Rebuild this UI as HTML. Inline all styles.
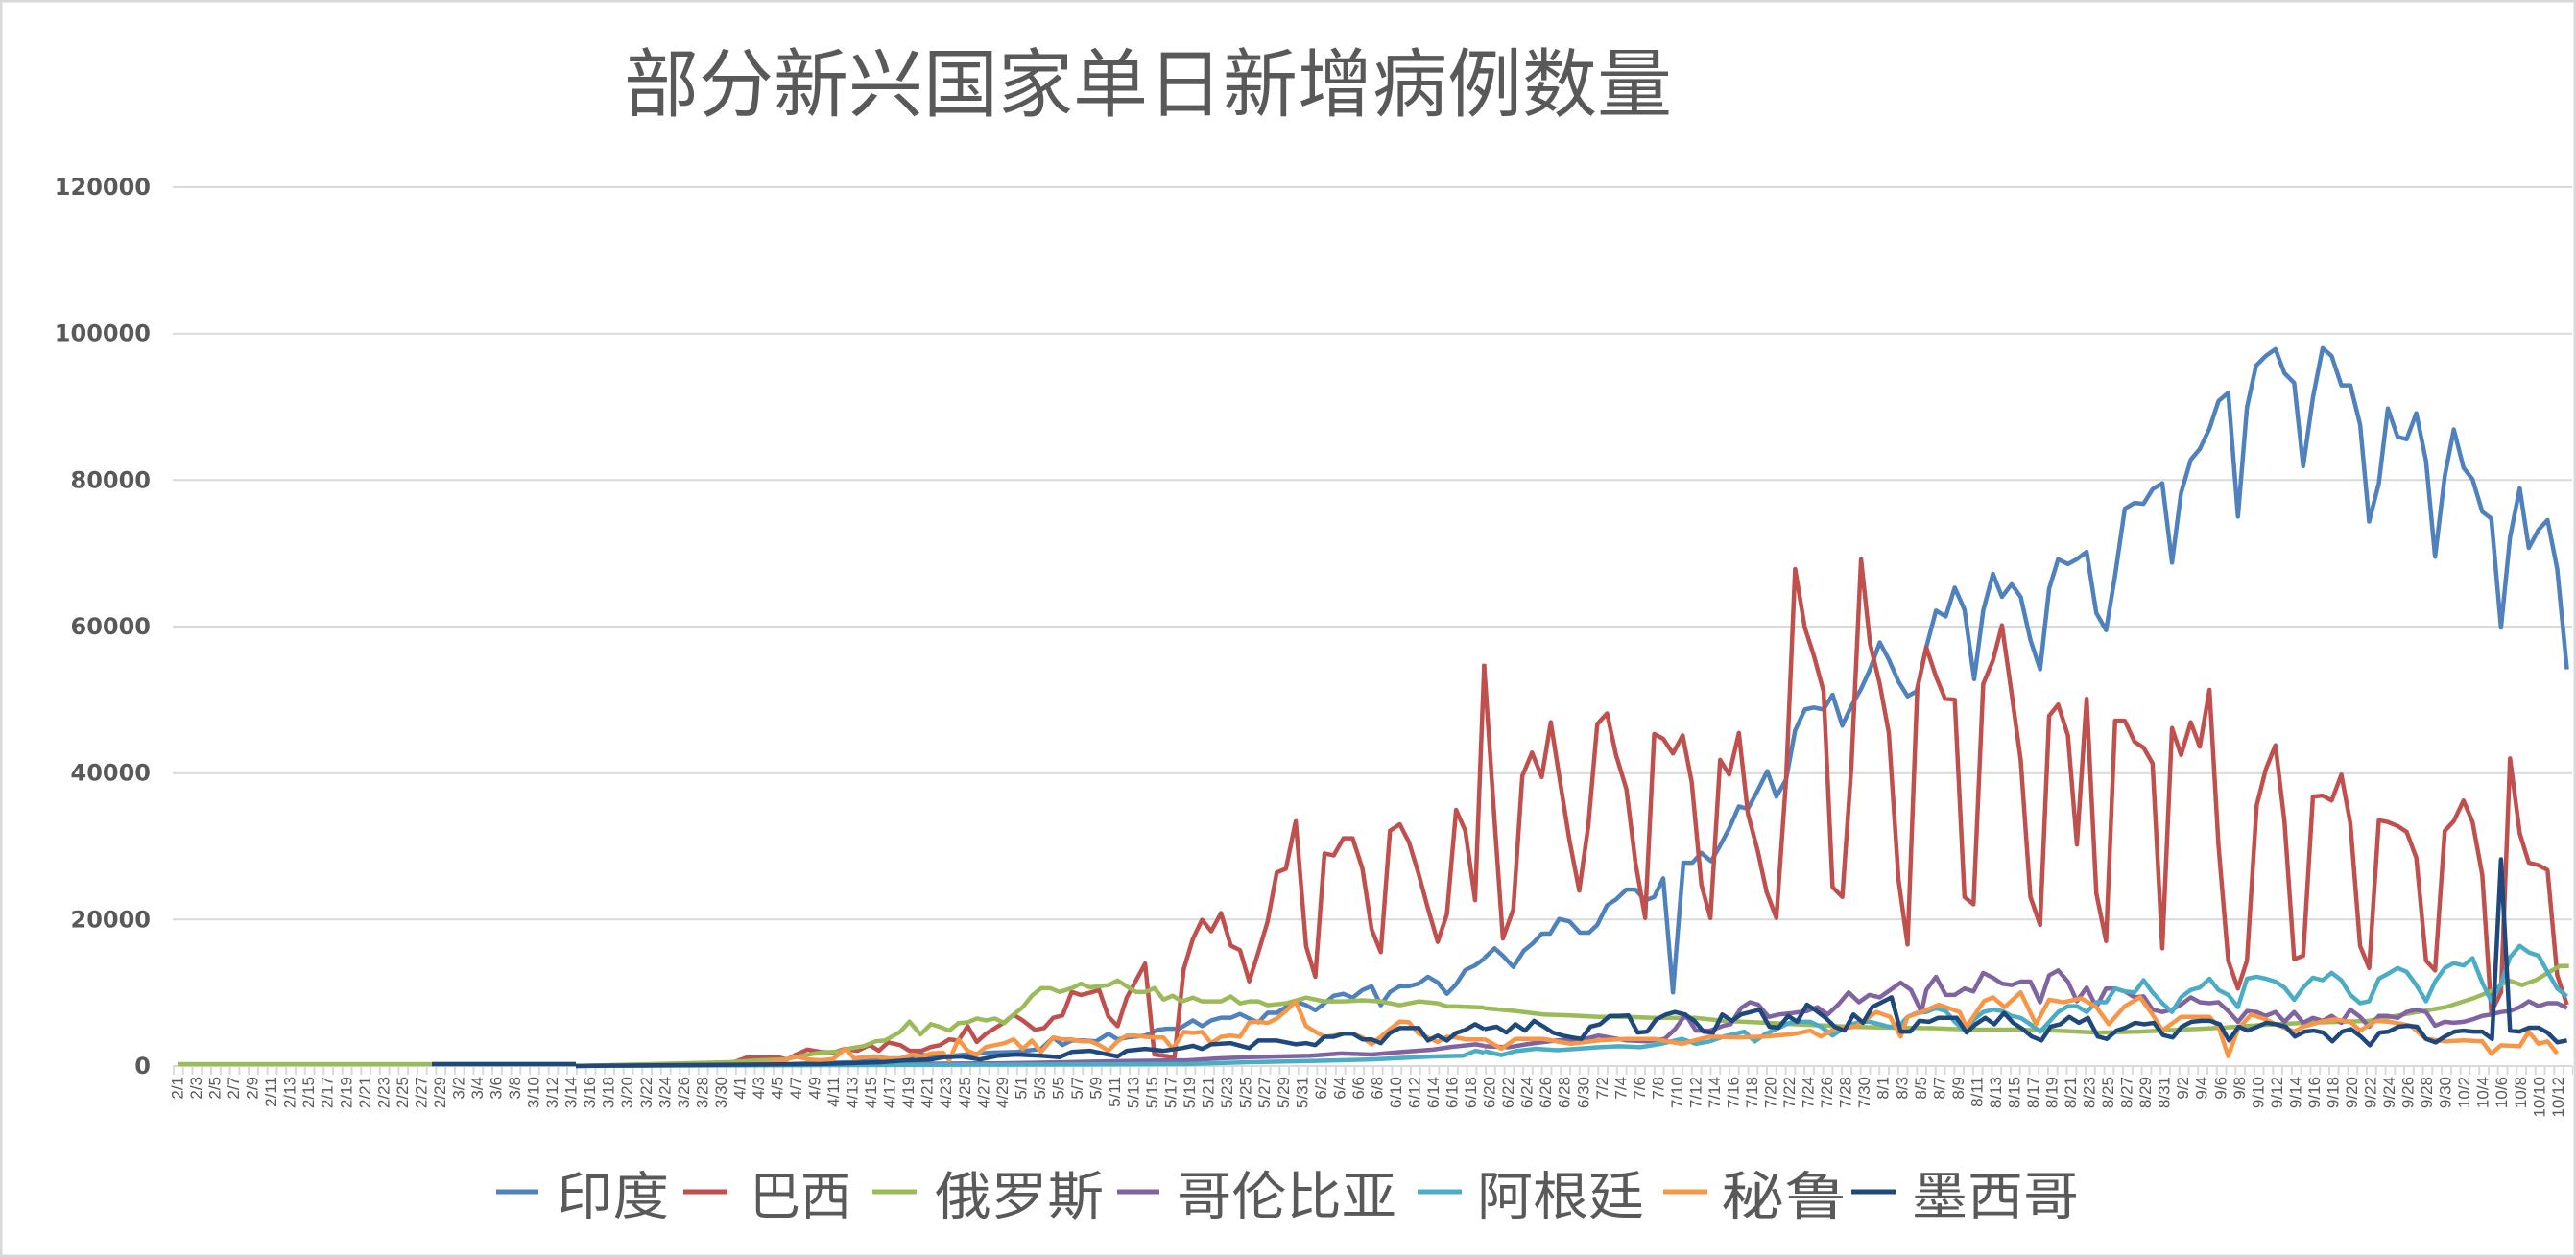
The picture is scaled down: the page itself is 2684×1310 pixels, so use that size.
<!DOCTYPE html>
<html><head><meta charset="utf-8"><style>
html,body{margin:0;padding:0;background:#fff;}
svg{display:block;}
</style></head><body>
<svg width="2684" height="1310" viewBox="0 0 2684 1310" xmlns="http://www.w3.org/2000/svg">
<rect x="1" y="1" width="2682" height="1308" fill="#fff" stroke="#D9D9D9" stroke-width="3"/>
<text x="1196" y="82" font-family="Noto Sans CJK SC, sans-serif" font-size="78" fill="#595959" text-anchor="middle" dominant-baseline="central">部分新兴国家单日新增病例数量</text>
<g stroke="#D9D9D9" stroke-width="2">
<line x1="180" y1="195" x2="2680" y2="195"/><line x1="180" y1="347.7" x2="2680" y2="347.7"/><line x1="180" y1="500.3" x2="2680" y2="500.3"/><line x1="180" y1="653" x2="2680" y2="653"/><line x1="180" y1="805.7" x2="2680" y2="805.7"/><line x1="180" y1="958.3" x2="2680" y2="958.3"/><line x1="180" y1="1111" x2="2680" y2="1111"/>
</g>
<defs><pattern id="tk" x="180" y="1111" width="9.765" height="10" patternUnits="userSpaceOnUse"><rect x="0" y="0" width="2" height="10" fill="#D9D9D9"/></pattern></defs>
<rect x="179" y="1111" width="2502" height="9" fill="url(#tk)"/>
<g font-family="DejaVu Sans, sans-serif" font-weight="bold" font-size="24" fill="#595959" text-anchor="end" dominant-baseline="central">
<text x="157" y="195">120000</text><text x="157" y="347.7">100000</text><text x="157" y="500.3">80000</text><text x="157" y="653">60000</text><text x="157" y="805.7">40000</text><text x="157" y="958.3">20000</text><text x="157" y="1111">0</text>
</g>
<g font-family="Liberation Sans, sans-serif" font-size="17" fill="#595959" text-anchor="end" dominant-baseline="central">
<text transform="translate(185,1122) rotate(-90)">2/1</text>
<text transform="translate(204.5,1122) rotate(-90)">2/3</text>
<text transform="translate(224.1,1122) rotate(-90)">2/5</text>
<text transform="translate(243.6,1122) rotate(-90)">2/7</text>
<text transform="translate(263.1,1122) rotate(-90)">2/9</text>
<text transform="translate(282.7,1122) rotate(-90)">2/11</text>
<text transform="translate(302.2,1122) rotate(-90)">2/13</text>
<text transform="translate(321.7,1122) rotate(-90)">2/15</text>
<text transform="translate(341.2,1122) rotate(-90)">2/17</text>
<text transform="translate(360.8,1122) rotate(-90)">2/19</text>
<text transform="translate(380.3,1122) rotate(-90)">2/21</text>
<text transform="translate(399.8,1122) rotate(-90)">2/23</text>
<text transform="translate(419.4,1122) rotate(-90)">2/25</text>
<text transform="translate(438.9,1122) rotate(-90)">2/27</text>
<text transform="translate(458.4,1122) rotate(-90)">2/29</text>
<text transform="translate(478,1122) rotate(-90)">3/2</text>
<text transform="translate(497.5,1122) rotate(-90)">3/4</text>
<text transform="translate(517,1122) rotate(-90)">3/6</text>
<text transform="translate(536.5,1122) rotate(-90)">3/8</text>
<text transform="translate(556.1,1122) rotate(-90)">3/10</text>
<text transform="translate(575.6,1122) rotate(-90)">3/12</text>
<text transform="translate(595.1,1122) rotate(-90)">3/14</text>
<text transform="translate(614.7,1122) rotate(-90)">3/16</text>
<text transform="translate(634.2,1122) rotate(-90)">3/18</text>
<text transform="translate(653.7,1122) rotate(-90)">3/20</text>
<text transform="translate(673.3,1122) rotate(-90)">3/22</text>
<text transform="translate(692.8,1122) rotate(-90)">3/24</text>
<text transform="translate(712.3,1122) rotate(-90)">3/26</text>
<text transform="translate(731.8,1122) rotate(-90)">3/28</text>
<text transform="translate(751.4,1122) rotate(-90)">3/30</text>
<text transform="translate(770.9,1122) rotate(-90)">4/1</text>
<text transform="translate(790.4,1122) rotate(-90)">4/3</text>
<text transform="translate(810,1122) rotate(-90)">4/5</text>
<text transform="translate(829.5,1122) rotate(-90)">4/7</text>
<text transform="translate(849,1122) rotate(-90)">4/9</text>
<text transform="translate(868.6,1122) rotate(-90)">4/11</text>
<text transform="translate(888.1,1122) rotate(-90)">4/13</text>
<text transform="translate(907.6,1122) rotate(-90)">4/15</text>
<text transform="translate(927.1,1122) rotate(-90)">4/17</text>
<text transform="translate(946.7,1122) rotate(-90)">4/19</text>
<text transform="translate(966.2,1122) rotate(-90)">4/21</text>
<text transform="translate(985.7,1122) rotate(-90)">4/23</text>
<text transform="translate(1005.3,1122) rotate(-90)">4/25</text>
<text transform="translate(1024.8,1122) rotate(-90)">4/27</text>
<text transform="translate(1044.3,1122) rotate(-90)">4/29</text>
<text transform="translate(1063.9,1122) rotate(-90)">5/1</text>
<text transform="translate(1083.4,1122) rotate(-90)">5/3</text>
<text transform="translate(1102.9,1122) rotate(-90)">5/5</text>
<text transform="translate(1122.4,1122) rotate(-90)">5/7</text>
<text transform="translate(1142,1122) rotate(-90)">5/9</text>
<text transform="translate(1161.5,1122) rotate(-90)">5/11</text>
<text transform="translate(1181,1122) rotate(-90)">5/13</text>
<text transform="translate(1200.6,1122) rotate(-90)">5/15</text>
<text transform="translate(1220.1,1122) rotate(-90)">5/17</text>
<text transform="translate(1239.6,1122) rotate(-90)">5/19</text>
<text transform="translate(1259.2,1122) rotate(-90)">5/21</text>
<text transform="translate(1278.7,1122) rotate(-90)">5/23</text>
<text transform="translate(1298.2,1122) rotate(-90)">5/25</text>
<text transform="translate(1317.7,1122) rotate(-90)">5/27</text>
<text transform="translate(1337.3,1122) rotate(-90)">5/29</text>
<text transform="translate(1356.8,1122) rotate(-90)">5/31</text>
<text transform="translate(1376.3,1122) rotate(-90)">6/2</text>
<text transform="translate(1395.9,1122) rotate(-90)">6/4</text>
<text transform="translate(1415.4,1122) rotate(-90)">6/6</text>
<text transform="translate(1434.9,1122) rotate(-90)">6/8</text>
<text transform="translate(1454.5,1122) rotate(-90)">6/10</text>
<text transform="translate(1474,1122) rotate(-90)">6/12</text>
<text transform="translate(1493.5,1122) rotate(-90)">6/14</text>
<text transform="translate(1513,1122) rotate(-90)">6/16</text>
<text transform="translate(1532.6,1122) rotate(-90)">6/18</text>
<text transform="translate(1552.1,1122) rotate(-90)">6/20</text>
<text transform="translate(1571.6,1122) rotate(-90)">6/22</text>
<text transform="translate(1591.2,1122) rotate(-90)">6/24</text>
<text transform="translate(1610.7,1122) rotate(-90)">6/26</text>
<text transform="translate(1630.2,1122) rotate(-90)">6/28</text>
<text transform="translate(1649.8,1122) rotate(-90)">6/30</text>
<text transform="translate(1669.3,1122) rotate(-90)">7/2</text>
<text transform="translate(1688.8,1122) rotate(-90)">7/4</text>
<text transform="translate(1708.3,1122) rotate(-90)">7/6</text>
<text transform="translate(1727.9,1122) rotate(-90)">7/8</text>
<text transform="translate(1747.4,1122) rotate(-90)">7/10</text>
<text transform="translate(1766.9,1122) rotate(-90)">7/12</text>
<text transform="translate(1786.5,1122) rotate(-90)">7/14</text>
<text transform="translate(1806,1122) rotate(-90)">7/16</text>
<text transform="translate(1825.5,1122) rotate(-90)">7/18</text>
<text transform="translate(1845.1,1122) rotate(-90)">7/20</text>
<text transform="translate(1864.6,1122) rotate(-90)">7/22</text>
<text transform="translate(1884.1,1122) rotate(-90)">7/24</text>
<text transform="translate(1903.6,1122) rotate(-90)">7/26</text>
<text transform="translate(1923.2,1122) rotate(-90)">7/28</text>
<text transform="translate(1942.7,1122) rotate(-90)">7/30</text>
<text transform="translate(1962.2,1122) rotate(-90)">8/1</text>
<text transform="translate(1981.8,1122) rotate(-90)">8/3</text>
<text transform="translate(2001.3,1122) rotate(-90)">8/5</text>
<text transform="translate(2020.8,1122) rotate(-90)">8/7</text>
<text transform="translate(2040.4,1122) rotate(-90)">8/9</text>
<text transform="translate(2059.9,1122) rotate(-90)">8/11</text>
<text transform="translate(2079.4,1122) rotate(-90)">8/13</text>
<text transform="translate(2098.9,1122) rotate(-90)">8/15</text>
<text transform="translate(2118.5,1122) rotate(-90)">8/17</text>
<text transform="translate(2138,1122) rotate(-90)">8/19</text>
<text transform="translate(2157.5,1122) rotate(-90)">8/21</text>
<text transform="translate(2177.1,1122) rotate(-90)">8/23</text>
<text transform="translate(2196.6,1122) rotate(-90)">8/25</text>
<text transform="translate(2216.1,1122) rotate(-90)">8/27</text>
<text transform="translate(2235.7,1122) rotate(-90)">8/29</text>
<text transform="translate(2255.2,1122) rotate(-90)">8/31</text>
<text transform="translate(2274.7,1122) rotate(-90)">9/2</text>
<text transform="translate(2294.2,1122) rotate(-90)">9/4</text>
<text transform="translate(2313.8,1122) rotate(-90)">9/6</text>
<text transform="translate(2333.3,1122) rotate(-90)">9/8</text>
<text transform="translate(2352.8,1122) rotate(-90)">9/10</text>
<text transform="translate(2372.4,1122) rotate(-90)">9/12</text>
<text transform="translate(2391.9,1122) rotate(-90)">9/14</text>
<text transform="translate(2411.4,1122) rotate(-90)">9/16</text>
<text transform="translate(2431,1122) rotate(-90)">9/18</text>
<text transform="translate(2450.5,1122) rotate(-90)">9/20</text>
<text transform="translate(2470,1122) rotate(-90)">9/22</text>
<text transform="translate(2489.5,1122) rotate(-90)">9/24</text>
<text transform="translate(2509.1,1122) rotate(-90)">9/26</text>
<text transform="translate(2528.6,1122) rotate(-90)">9/28</text>
<text transform="translate(2548.1,1122) rotate(-90)">9/30</text>
<text transform="translate(2567.7,1122) rotate(-90)">10/2</text>
<text transform="translate(2587.2,1122) rotate(-90)">10/4</text>
<text transform="translate(2606.7,1122) rotate(-90)">10/6</text>
<text transform="translate(2626.3,1122) rotate(-90)">10/8</text>
<text transform="translate(2645.8,1122) rotate(-90)">10/10</text>
<text transform="translate(2665.3,1122) rotate(-90)">10/12</text>
</g>

<!-- flat early segments -->
<g fill="none" stroke-width="4.5" stroke-linejoin="round">
<polyline stroke="#9BBB59" points="185,1109 460,1109 600,1109"/>
<polyline stroke="#1F497D" points="450,1109 600,1109"/>
</g>

<!-- zoom5 region: translate(600,500) scale(0.6378,0.3954) -->
<g transform="translate(600,500) scale(0.6378,0.3954)" fill="none" stroke-width="4.5" stroke-linejoin="round">
<polyline vector-effect="non-scaling-stroke" stroke="#4F81BD" points="0,1545 350,1540 450,1535 520,1528 560,1515 600,1520 640,1515 680,1510 720,1508 760,1500 780,1470 795,1490 810,1478 830,1478 850,1480 870,1460 885,1475 900,1470 930,1465 950,1450 965,1447 985,1447 1008,1425 1023,1440 1038,1425 1054,1418 1070,1418 1085,1408 1100,1420 1115,1430 1130,1405 1145,1405 1160,1390 1176,1375 1193,1385 1208,1398 1223,1380 1238,1360 1254,1355 1269,1365 1285,1345 1300,1335 1315,1385 1330,1350 1346,1335 1361,1335 1377,1328 1392,1310 1408,1325 1423,1355 1438,1330 1453,1292 1469,1280 1484,1262"/>
<polyline vector-effect="non-scaling-stroke" stroke="#C0504D" points="0,1545 250,1540 280,1522 330,1522 345,1528 360,1515 378,1502 400,1508 420,1510 440,1500 460,1505 480,1490 495,1505 510,1483 530,1490 545,1505 565,1505 580,1495 595,1490 610,1475 625,1478 640,1440 655,1482 670,1460 685,1445 700,1430 715,1410 730,1425 750,1450 765,1445 780,1418 795,1412 810,1350 825,1358 840,1352 855,1345 870,1415 885,1440 900,1365 915,1320 930,1275 945,1515 960,1518 978,1522 993,1290 1008,1210 1023,1160 1038,1190 1054,1142 1070,1228 1085,1240 1100,1322 1115,1245 1130,1165 1145,1035 1160,1025 1176,900 1193,1230 1208,1310 1223,985 1238,990 1254,945 1269,945 1285,1025 1300,1185 1315,1245 1330,925 1346,908 1361,955 1377,1040 1392,1130 1408,1218 1423,1145 1438,870 1453,925 1469,1108 1484,485"/>
<polyline vector-effect="non-scaling-stroke" stroke="#9BBB59" points="0,1545 250,1535 300,1530 340,1528 370,1518 400,1510 430,1507 450,1498 470,1493 490,1480 505,1478 530,1455 545,1428 563,1462 580,1435 595,1442 610,1452 625,1432 640,1430 655,1420 670,1425 685,1420 700,1432 715,1410 730,1390 745,1360 760,1340 775,1340 790,1350 810,1340 825,1328 840,1338 855,1335 870,1332 885,1320 900,1335 915,1350 930,1350 945,1340 960,1370 975,1360 990,1375 1008,1365 1023,1375 1054,1375 1070,1362 1085,1380 1100,1375 1115,1375 1130,1385 1160,1380 1193,1365 1223,1375 1254,1375 1285,1372 1315,1375 1346,1385 1377,1375 1408,1380 1423,1388 1438,1388 1469,1390 1484,1391"/>
<polyline vector-effect="non-scaling-stroke" stroke="#8064A2" points="0,1545 700,1538 800,1535 900,1532 1000,1530 1050,1525 1100,1522 1150,1520 1200,1518 1250,1512 1300,1515 1350,1508 1400,1502 1430,1495 1470,1488 1484,1492"/>
<polyline vector-effect="non-scaling-stroke" stroke="#4BACC6" points="0,1545 1000,1540 1100,1535 1200,1532 1300,1528 1400,1520 1450,1518 1470,1505 1484,1510"/>
<polyline vector-effect="non-scaling-stroke" stroke="#F79646" points="0,1545 300,1540 340,1530 360,1520 380,1528 400,1530 420,1527 440,1500 455,1525 470,1522 490,1520 510,1525 530,1525 550,1515 565,1520 580,1512 600,1510 610,1530 625,1475 640,1505 655,1515 670,1495 685,1490 700,1485 715,1475 730,1500 745,1478 760,1508 780,1470 795,1475 810,1475 825,1480 840,1480 855,1490 870,1505 885,1480 900,1465 915,1465 930,1468 945,1470 960,1470 975,1500 993,1455 1008,1458 1023,1455 1038,1485 1054,1468 1070,1465 1085,1468 1100,1430 1115,1428 1130,1432 1145,1420 1160,1400 1176,1375 1193,1440 1208,1455 1223,1468 1238,1465 1254,1460 1269,1460 1285,1470 1300,1488 1315,1468 1330,1448 1346,1428 1361,1430 1377,1460 1392,1470 1408,1482 1423,1468 1438,1470 1453,1475 1469,1475 1484,1475"/>
<polyline vector-effect="non-scaling-stroke" stroke="#1F497D" points="0,1545 400,1540 500,1535 540,1530 580,1528 600,1522 630,1520 660,1528 690,1518 720,1515 760,1518 790,1522 810,1508 840,1505 870,1515 885,1520 900,1505 930,1500 960,1505 990,1498 1008,1492 1023,1500 1038,1488 1070,1485 1100,1498 1115,1478 1145,1478 1176,1488 1193,1485 1208,1490 1223,1468 1238,1468 1254,1460 1269,1460 1285,1475 1300,1475 1315,1485 1330,1458 1346,1445 1361,1445 1377,1445 1392,1478 1408,1465 1423,1478 1438,1458 1453,1450 1469,1435 1484,1448"/>
</g>

<!-- zoom6 region: translate(1550,320) scale(0.7232,0.5102) -->
<g transform="translate(1550,320) scale(0.7232,0.5102)" fill="none" stroke-width="4.5" stroke-linejoin="round">
<polyline vector-effect="non-scaling-stroke" stroke="#4F81BD" points="-5,1330 10,1310 22,1325 37,1348 52,1315 65,1300 78,1280 90,1280 103,1250 118,1255 133,1278 146,1278 158,1262 172,1222 185,1210 200,1190 213,1190 227,1212 240,1205 253,1167 267,1400 282,1135 295,1135 308,1115 322,1132 335,1100 348,1065 362,1020 375,1025 390,985 403,948 416,1000 430,965 443,865 457,822 470,818 484,822 497,792 511,855 524,815 538,780 551,740 565,685 578,720 592,765 605,795 618,785 632,695 646,620 660,632 673,573 687,618 701,760 714,620 728,545 741,592 755,566 768,592 782,680 796,740 809,575 822,515 836,525 849,515 863,500 877,625 891,660 904,548 918,412 932,400 945,402 958,372 972,360 986,522 999,380 1013,312 1026,290 1040,248 1053,192 1067,175 1081,428 1094,205 1107,120 1121,100 1135,86 1148,135 1162,155 1175,325 1189,185 1203,84 1216,100 1230,160 1243,160 1257,240 1270,438 1284,360 1297,207 1311,265 1324,270 1338,217 1352,315 1365,510 1379,345 1392,250 1406,328 1419,352 1433,418 1446,432 1460,655 1473,470 1487,370 1500,492 1514,455 1527,435 1541,535 1555,740"/>
<polyline vector-effect="non-scaling-stroke" stroke="#C0504D" points="-5,732 10,1050 22,1290 37,1230 50,958 64,910 78,960 91,848 105,975 118,1090 132,1192 145,1060 158,852 172,830 185,915 200,985 213,1135 227,1248 240,872 253,882 267,912 281,875 294,970 308,1180 321,1248 335,925 348,955 362,870 375,1035 389,1110 402,1195 416,1248 430,965 443,535 457,655 470,712 484,785 497,1185 511,1205 524,940 538,515 551,688 565,770 578,870 592,1170 605,1302 619,780 632,695 646,755 659,800 673,802 687,1205 700,1220 714,770 728,722 741,650 755,790 768,925 782,1205 796,1262 809,835 822,812 836,875 849,1098 863,800 877,1198 891,1295 904,845 918,845 932,888 945,900 958,932 972,1310 986,860 999,915 1013,848 1026,898 1040,782 1053,1100 1067,1335 1081,1392 1094,1335 1108,1018 1121,945 1135,895 1148,1050 1162,1332 1175,1325 1189,1000 1203,998 1216,1008 1230,955 1243,1055 1257,1305 1270,1350 1284,1048 1297,1052 1311,1060 1324,1072 1338,1125 1352,1335 1365,1355 1379,1070 1392,1050 1406,1008 1419,1052 1433,1160 1446,1440 1460,1400 1473,922 1487,1075 1500,1135 1514,1140 1527,1150 1541,1365 1555,1425"/>
<polyline vector-effect="non-scaling-stroke" stroke="#9BBB59" points="-5,1432 40,1438 80,1445 120,1447 160,1450 200,1450 240,1452 300,1452 340,1458 400,1462 460,1466 520,1470 580,1472 640,1473 700,1476 760,1476 820,1478 880,1482 940,1480 1000,1476 1060,1472 1120,1466 1180,1462 1230,1460 1270,1458 1300,1450 1340,1440 1380,1430 1420,1412 1450,1395 1470,1375 1490,1385 1510,1375 1530,1358 1545,1346 1558,1346"/>
<polyline vector-effect="non-scaling-stroke" stroke="#8064A2" points="-5,1510 30,1512 60,1505 100,1498 140,1495 160,1488 200,1498 230,1500 255,1495 270,1475 285,1445 300,1478 320,1478 340,1468 350,1465 365,1432 378,1420 390,1425 405,1450 420,1445 440,1442 460,1438 475,1430 490,1445 505,1425 520,1400 535,1420 550,1405 565,1410 580,1395 595,1380 610,1395 625,1440 632,1395 646,1368 660,1405 673,1405 687,1392 700,1398 714,1360 728,1370 741,1382 755,1385 768,1378 782,1378 796,1420 809,1365 822,1355 836,1378 849,1418 863,1390 877,1430 891,1392 904,1392 918,1398 932,1410 945,1408 958,1435 972,1440 986,1435 999,1425 1013,1410 1026,1420 1040,1422 1053,1420 1067,1438 1081,1460 1094,1438 1108,1440 1121,1448 1135,1440 1148,1460 1162,1440 1175,1462 1189,1452 1203,1458 1216,1448 1230,1462 1243,1435 1257,1450 1270,1470 1284,1448 1297,1448 1311,1452 1324,1440 1338,1435 1352,1440 1365,1468 1379,1460 1392,1462 1406,1460 1419,1455 1433,1448 1446,1445 1460,1440 1473,1438 1487,1430 1500,1418 1514,1428 1527,1422 1541,1422 1555,1432"/>
<polyline vector-effect="non-scaling-stroke" stroke="#4BACC6" points="-5,1520 20,1528 40,1520 70,1515 100,1518 130,1515 160,1512 190,1510 220,1512 250,1505 280,1495 300,1505 320,1500 340,1490 355,1485 370,1480 385,1500 400,1485 420,1472 435,1462 450,1460 465,1460 480,1470 497,1488 511,1475 524,1465 538,1460 551,1460 565,1465 578,1470 592,1470 605,1450 618,1442 632,1440 646,1432 660,1438 673,1460 687,1478 701,1455 714,1440 728,1435 741,1438 755,1448 768,1452 782,1465 796,1480 809,1460 822,1440 836,1428 849,1428 863,1440 877,1420 891,1420 904,1392 918,1398 932,1400 945,1375 958,1400 972,1422 986,1440 999,1410 1013,1395 1026,1390 1040,1372 1053,1395 1067,1405 1081,1430 1094,1372 1108,1368 1121,1372 1135,1378 1148,1390 1162,1415 1175,1390 1189,1370 1203,1375 1216,1360 1230,1375 1243,1405 1257,1422 1270,1418 1284,1372 1297,1362 1311,1350 1324,1358 1338,1385 1352,1418 1365,1378 1379,1350 1392,1340 1406,1345 1419,1330 1433,1380 1446,1418 1460,1382 1473,1328 1487,1305 1500,1318 1514,1325 1527,1358 1541,1392 1555,1408"/>
<polyline vector-effect="non-scaling-stroke" stroke="#F79646" points="-5,1495 20,1515 40,1495 80,1495 120,1505 160,1498 200,1495 240,1495 280,1505 320,1490 360,1492 400,1490 440,1485 465,1478 480,1490 500,1475 530,1470 560,1440 580,1450 595,1490 605,1450 625,1440 650,1425 680,1440 690,1470 715,1418 728,1410 745,1430 768,1400 790,1465 809,1415 830,1420 855,1412 865,1420 877,1430 895,1465 918,1428 940,1410 958,1445 972,1478 999,1450 1013,1450 1040,1450 1053,1470 1067,1530 1081,1475 1100,1445 1121,1455 1135,1465 1162,1480 1175,1470 1200,1460 1220,1455 1243,1460 1257,1478 1280,1458 1300,1460 1330,1468 1352,1495 1380,1500 1406,1498 1433,1500 1446,1525 1460,1508 1487,1510 1500,1480 1514,1505 1527,1500 1541,1525"/>
<polyline vector-effect="non-scaling-stroke" stroke="#1F497D" points="-5,1475 13,1470 27,1482 40,1465 54,1478 67,1458 81,1470 94,1482 108,1488 122,1492 135,1495 148,1470 162,1465 176,1448 189,1448 203,1447 216,1482 230,1480 243,1455 257,1445 270,1440 284,1445 298,1458 311,1480 325,1482 338,1445 352,1458 365,1445 379,1440 392,1435 406,1470 419,1472 433,1448 446,1460 460,1425 473,1437 487,1452 500,1470 514,1478 527,1445 541,1462 554,1430 568,1420 582,1410 595,1480 609,1480 622,1458 636,1460 649,1452 663,1452 676,1452 690,1482 703,1465 717,1452 730,1465 744,1442 757,1462 771,1475 784,1490 798,1498 811,1470 825,1465 838,1450 852,1462 865,1452 879,1490 892,1495 906,1478 919,1472 933,1462 946,1465 960,1462 973,1487 987,1492 1000,1470 1014,1460 1028,1458 1041,1458 1055,1465 1068,1498 1082,1470 1095,1478 1109,1470 1122,1462 1136,1465 1150,1470 1163,1490 1177,1480 1190,1478 1204,1482 1217,1500 1231,1480 1244,1475 1258,1490 1271,1508 1285,1482 1298,1480 1312,1470 1325,1468 1339,1470 1352,1495 1366,1502 1379,1490 1393,1480 1406,1478 1420,1480 1433,1480 1447,1495 1460,1128 1473,1478 1487,1480 1500,1472 1514,1472 1527,1482 1541,1502 1555,1498"/>
</g>

<!-- legend -->
<g stroke-width="5">
<line x1="517" y1="1242" x2="561" y2="1242" stroke="#4F81BD"/>
<line x1="712" y1="1242" x2="758" y2="1242" stroke="#C0504D"/>
<line x1="909" y1="1242" x2="955" y2="1242" stroke="#9BBB59"/>
<line x1="1164" y1="1242" x2="1208" y2="1242" stroke="#8064A2"/>
<line x1="1477" y1="1242" x2="1523" y2="1242" stroke="#4BACC6"/>
<line x1="1733" y1="1242" x2="1779" y2="1242" stroke="#F79646"/>
<line x1="1929" y1="1242" x2="1975" y2="1242" stroke="#1F497D"/>
</g>
<g font-family="Noto Sans CJK SC, sans-serif" font-size="54" fill="#595959" dominant-baseline="central">
<text x="580" y="1242" textLength="117" lengthAdjust="spacingAndGlyphs">印度</text>
<text x="781" y="1242" textLength="106" lengthAdjust="spacingAndGlyphs">巴西</text>
<text x="974" y="1242" textLength="176" lengthAdjust="spacingAndGlyphs">俄罗斯</text>
<text x="1226" y="1242" textLength="229" lengthAdjust="spacingAndGlyphs">哥伦比亚</text>
<text x="1539" y="1242" textLength="174" lengthAdjust="spacingAndGlyphs">阿根廷</text>
<text x="1793" y="1242" textLength="132" lengthAdjust="spacingAndGlyphs">秘鲁</text>
<text x="1992" y="1242" textLength="174" lengthAdjust="spacingAndGlyphs">墨西哥</text>
</g>
</svg>
</body></html>
